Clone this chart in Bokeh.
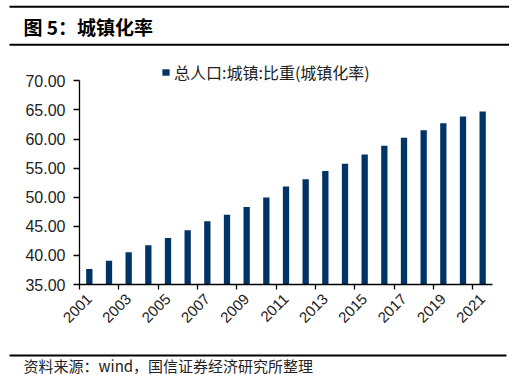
import math
from bokeh.plotting import figure
from bokeh.models import (Range1d, FixedTicker, LinearAxis, NumeralTickFormatter,
                          CustomJSTickFormatter, Legend, LegendItem, Label, ColumnDataSource)
from bokeh.layouts import column
from bokeh.embed import file_html
from bokeh.resources import INLINE

# ---- data ----
years = [2001, 2002, 2003, 2004, 2005, 2006, 2007, 2008, 2009, 2010, 2011,
         2012, 2013, 2014, 2015, 2016, 2017, 2018, 2019, 2020, 2021]
urban_rate = [37.66, 39.09, 40.53, 41.76, 42.99, 44.34, 45.89, 46.99, 48.34, 49.95, 51.83,
              53.10, 54.49, 55.75, 57.33, 58.84, 60.24, 61.50, 62.71, 63.89, 64.72]
y_ticks = [35, 40, 45, 50, 55, 60, 65, 70]
series_name = "总人口:城镇:比重(城镇化率)"
title_text = "图 5：城镇化率"
source_text = "资料来源：wind，国信证券经济研究所整理"

BAR = "#003366"
TXT = "#222222"
CJK = "Noto Sans CJK SC"
LAT = "Liberation Sans"
W = 509


def deco(h):
    f = figure(width=W, height=h, x_range=Range1d(0, W), y_range=Range1d(h, 0),
               min_border=0, toolbar_location=None, output_backend="svg",
               x_axis_location=None, y_axis_location=None, outline_line_color=None)
    f.grid.visible = False
    return f


# ---- header ----
top = deco(48)
top.segment(x0=[9, 9], y0=[6.3, 44.3], x1=[W, W], y1=[6.3, 44.3], line_width=2, line_color="black")
top.add_layout(Label(x=23, y=25.5, text=title_text, text_font=CJK, text_font_size="19px",
                     text_font_style="bold", text_baseline="middle", text_color="black"))

# ---- main chart ----
src = ColumnDataSource(dict(year=years, rate=urban_rate))
p = figure(width=W, height=297, x_range=Range1d(years[0] - 0.5, years[-1] + 0.5),
           y_range=Range1d(35, 73.5), min_border_left=79, min_border_right=17,
           min_border_top=12, min_border_bottom=61, toolbar_location=None,
           output_backend="svg", outline_line_color=None)
p.grid.visible = False
r = p.vbar(x="year", top="rate", bottom=35, width=0.32, source=src,
           fill_color=BAR, line_color=None)

ya = p.yaxis[0]
ya.ticker = FixedTicker(ticks=y_ticks)
ya.formatter = NumeralTickFormatter(format="0.00")
ya.bounds = (y_ticks[0], y_ticks[-1])
ya.axis_line_color = "black"
ya.axis_line_width = 1.3
ya.major_tick_line_color = "black"
ya.major_tick_line_width = 1.3
ya.major_tick_out = 6
ya.major_tick_in = 0
ya.minor_tick_line_color = None
ya.major_label_standoff = 8
ya.major_label_text_font = LAT
ya.major_label_text_font_size = "16px"
ya.major_label_text_color = TXT

xa = p.xaxis[0]
xa.ticker = FixedTicker(ticks=[y - 0.5 for y in years[::2]])
xa.formatter = CustomJSTickFormatter(code="return ''")
xa.axis_line_color = "black"
xa.axis_line_width = 1.3
xa.major_tick_line_color = "black"
xa.major_tick_line_width = 1.3
xa.major_tick_out = 5
xa.major_tick_in = 0
xa.minor_tick_line_color = None
xa.major_label_standoff = 0
xa.major_label_text_font_size = "1px"

lab = LinearAxis(ticker=FixedTicker(ticks=years[::2]), formatter=NumeralTickFormatter(format="0"),
                 axis_line_color=None, major_tick_line_color=None, minor_tick_line_color=None,
                 major_label_orientation=math.pi / 4, major_label_standoff=1,
                 major_label_text_font=LAT, major_label_text_font_size="15px",
                 major_label_text_color=TXT)
p.add_layout(lab, "below")

leg = Legend(items=[LegendItem(label=series_name, renderers=[r])], location=(82, 200),
             padding=0, margin=0, spacing=0, glyph_width=9, glyph_height=8,
             label_height=16, label_standoff=4, border_line_color=None,
             background_fill_alpha=0, label_text_font=CJK, label_text_font_size="16px",
             label_text_color=TXT, label_text_baseline="middle")
p.add_layout(leg, "center")

# ---- footer ----
bot = deco(29)
bot.segment(x0=[9], y0=[10], x1=[W - 3], y1=[10], line_width=2, line_color="black")
bot.add_layout(Label(x=23, y=19.5, text=source_text, text_font=CJK, text_font_size="15px",
                     text_baseline="middle", text_color=TXT))

layout = column(column(top), column(p), column(bot))
open("out.html", "w").write(file_html(layout, INLINE))
